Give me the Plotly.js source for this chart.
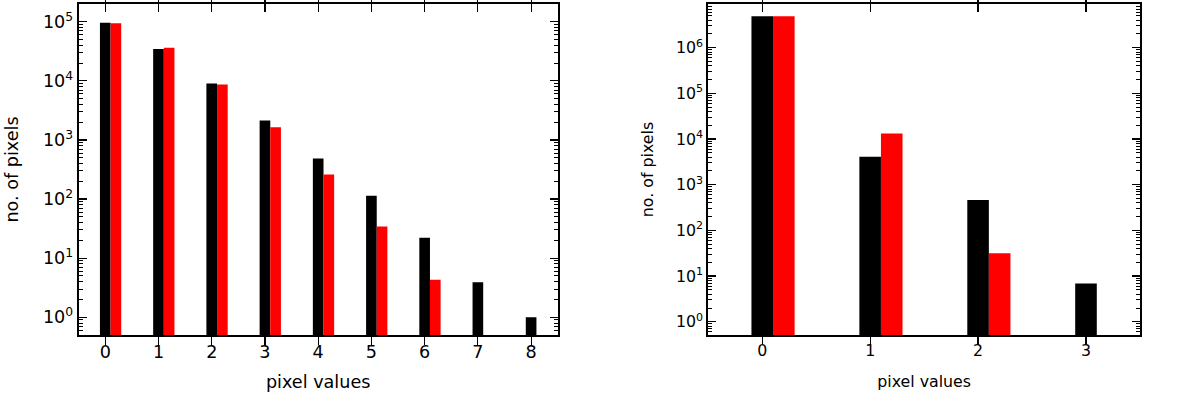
<!DOCTYPE html>
<html lang="en">

<head>
    <meta charset="UTF-8">
    <title>Pixel value histograms</title>
    <script src="https://cdn.plot.ly/plotly-3.0.1.min.js" charset="utf-8"></script>
    <style>
        body { margin: 0; }
    </style>
</head>

<body>
    <div id="plot" style="width: 1200px; height: 394px;"></div>

    <script>
        // left panel: pixel values 0..8
        const leftX = [0, 1, 2, 3, 4, 5, 6, 7, 8];
        const leftBlack = [96000, 34400, 9040, 2130, 484, 114, 22.2, 3.9, 1];
        const leftRed = [94000, 36300, 8700, 1640, 259, 34.4, 4.3];

        // right panel: pixel values 0..3
        const rightX = [0, 1, 2, 3];
        const rightBlack = [4.9e6, 4100, 462, 6.9];
        const rightRed = [4.9e6, 13300, 31.5];

        const leftDecades = [0, 1, 2, 3, 4, 5];
        const rightDecades = [0, 1, 2, 3, 4, 5, 6];

        const barW = 0.2;
        // the left panel was drawn a little larger than the right one
        const fntL = { family: 'DejaVu Sans', size: 17.6, color: '#000' };
        const fntR = { family: 'DejaVu Sans', size: 15.8, color: '#000' };

        function bars(x, y, color, offset, xa, ya) {
            return {
                type: 'bar', x: x, y: y,
                width: barW, offset: offset,
                marker: { color: color, line: { width: 0 } },
                xaxis: xa, yaxis: ya,
                showlegend: false, hoverinfo: 'x+y'
            };
        }

        function xAxis(domain, range, anchor, fnt, standoff) {
            return {
                domain: domain, range: range, anchor: anchor,
                tickmode: 'linear', tick0: 0, dtick: 1,
                ticks: 'inside', ticklen: 8, tickwidth: 1.2, tickcolor: '#000',
                showline: true, linewidth: 2, linecolor: '#000', mirror: 'allticks',
                showgrid: false, zeroline: false,
                tickfont: fnt,
                title: { text: 'pixel values', font: fnt, standoff: standoff }
            };
        }

        function minorVals(decades) {
            const vals = [];
            for (let d = decades[0] - 1; d <= decades[decades.length - 1] + 1; d++) {
                for (let k = 2; k <= 9; k++) vals.push(k * Math.pow(10, d));
            }
            return vals;
        }

        function yAxis(range, anchor, decades, fnt, standoff) {
            return {
                type: 'log', range: range, anchor: anchor, domain: [0, 1],
                tickmode: 'array',
                tickvals: decades.map(d => Math.pow(10, d)),
                ticktext: decades.map(d => '10<sup>' + d + '</sup>'),
                ticks: 'inside', ticklen: 8, tickwidth: 1.2, tickcolor: '#000',
                showline: true, linewidth: 2, linecolor: '#000', mirror: 'allticks',
                showgrid: false, zeroline: false,
                tickfont: fnt,
                title: { text: 'no. of pixels', font: fnt, standoff: standoff }
            };
        }

        // minor log ticks (2..9 per decade) drawn by an overlaid copy of the y axis
        function minorAxis(range, anchor, over, decades) {
            return {
                type: 'log', range: range, anchor: anchor, overlaying: over,
                tickmode: 'array', tickvals: minorVals(decades), showticklabels: false,
                ticks: 'inside', ticklen: 4, tickwidth: 1, tickcolor: '#000',
                showline: false, mirror: 'ticks',
                showgrid: false, zeroline: false
            };
        }

        const data = [
            bars(leftX, leftBlack, '#000000', -0.1, 'x', 'y'),
            bars(leftX.slice(0, leftRed.length), leftRed, '#ff0000', 0.1, 'x', 'y'),
            bars(rightX, rightBlack, '#000000', -0.1, 'x2', 'y2'),
            bars(rightX.slice(0, rightRed.length), rightRed, '#ff0000', 0.1, 'x2', 'y2'),
            // empty traces so that the minor-tick axes get drawn
            { type: 'scatter', x: [], y: [], xaxis: 'x', yaxis: 'y3', showlegend: false },
            { type: 'scatter', x: [], y: [], xaxis: 'x2', yaxis: 'y4', showlegend: false }
        ];

        const layout = {
            width: 1200, height: 394,
            margin: { l: 70, r: 50, t: 4, b: 59 },
            paper_bgcolor: '#fff', plot_bgcolor: '#fff',
            barmode: 'overlay',
            font: fntR,
            xaxis: xAxis([0.008, 0.4516], [-0.5, 8.5], 'y', fntL, 15),
            yaxis: yAxis([-0.3, 5.3], 'x', leftDecades, fntL, 20),
            xaxis2: xAxis([0.591, 0.9907], [-0.5, 3.5], 'y2', fntR, 17),
            yaxis2: yAxis([-0.29, 6.957], 'x2', rightDecades, fntR, 18),
            yaxis3: minorAxis([-0.3, 5.3], 'x', 'y', leftDecades),
            yaxis4: minorAxis([-0.29, 6.957], 'x2', 'y2', rightDecades)
        };

        Plotly.newPlot('plot', data, layout, { displayModeBar: false, staticPlot: true });
    </script>
</body>

</html>
